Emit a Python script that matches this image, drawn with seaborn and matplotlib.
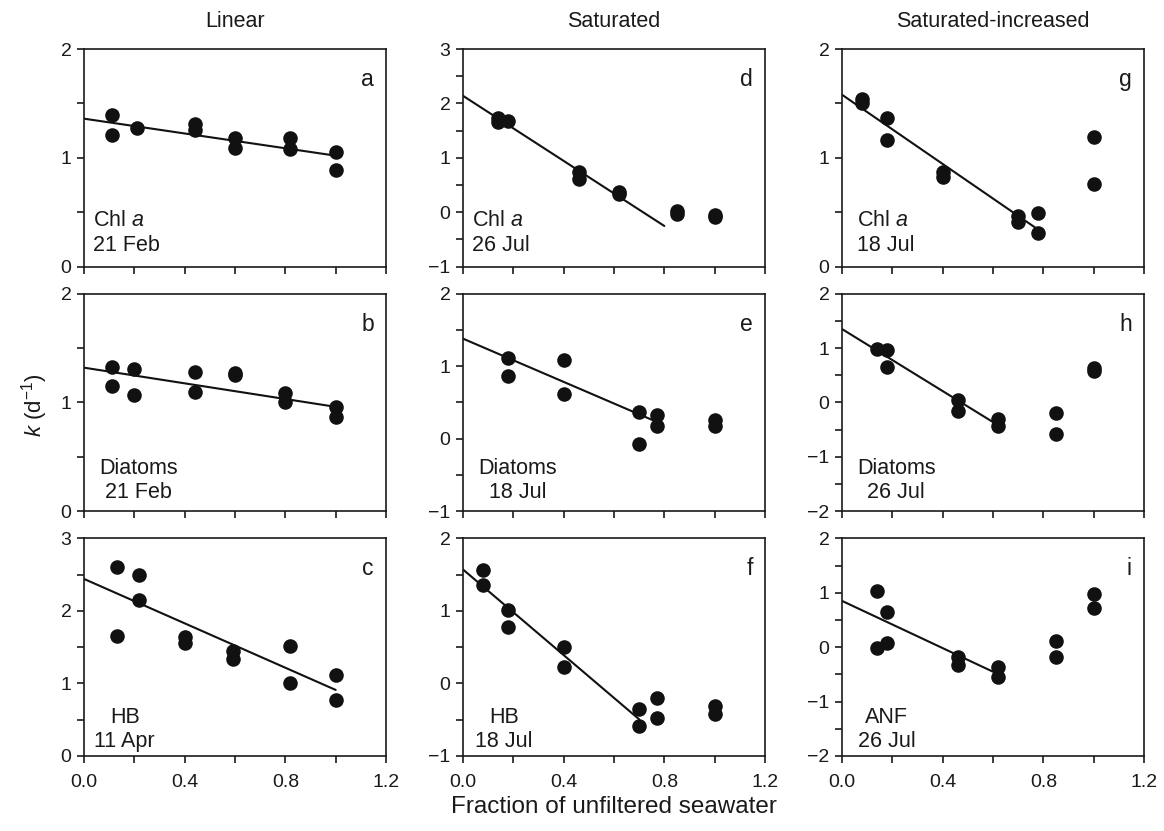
import numpy as np
import pandas as pd
import matplotlib
matplotlib.use("Agg")
import matplotlib.pyplot as plt
import seaborn as sns
from matplotlib.ticker import MultipleLocator

# ---------------- data ----------------
col_titles = ["Linear", "Saturated", "Saturated-increased"]
panel_letters = ["a", "d", "g", "b", "e", "h", "c", "f", "i"]
group_labels = [r"Chl $a$", r"Chl $a$", r"Chl $a$",
                "Diatoms", "Diatoms", "Diatoms",
                "HB", "HB", "ANF"]
date_labels = ["21 Feb", "26 Jul", "18 Jul",
               "21 Feb", "18 Jul", "26 Jul",
               "11 Apr", "18 Jul", "26 Jul"]

x_a = [0.11, 0.11, 0.21, 0.44, 0.44, 0.60, 0.60, 0.82, 0.82, 1.0, 1.0]
y_a = [1.39, 1.21, 1.27, 1.31, 1.26, 1.18, 1.09, 1.18, 1.08, 1.05, 0.89]
x_d = [0.14, 0.14, 0.18, 0.46, 0.46, 0.62, 0.62, 0.85, 0.85, 1.0, 1.0]
y_d = [1.74, 1.65, 1.68, 0.74, 0.62, 0.38, 0.33, 0.02, -0.03, -0.05, -0.09]
x_g = [0.08, 0.08, 0.18, 0.18, 0.40, 0.40, 0.70, 0.70, 0.78, 0.78, 1.0, 1.0]
y_g = [1.54, 1.50, 1.37, 1.16, 0.87, 0.82, 0.47, 0.41, 0.49, 0.31, 1.19, 0.76]
x_b = [0.11, 0.11, 0.20, 0.20, 0.44, 0.44, 0.60, 0.60, 0.80, 0.80, 1.0, 1.0]
y_b = [1.33, 1.15, 1.31, 1.07, 1.28, 1.10, 1.27, 1.25, 1.09, 1.00, 0.96, 0.87]
x_e = [0.18, 0.18, 0.40, 0.40, 0.70, 0.70, 0.77, 0.77, 1.0, 1.0]
y_e = [1.12, 0.87, 1.09, 0.62, 0.37, -0.07, 0.33, 0.17, 0.26, 0.17]
x_h = [0.14, 0.18, 0.18, 0.46, 0.46, 0.62, 0.62, 0.85, 0.85, 1.0, 1.0]
y_h = [0.98, 0.97, 0.65, 0.04, -0.16, -0.31, -0.43, -0.19, -0.58, 0.63, 0.58]
x_c = [0.13, 0.13, 0.22, 0.22, 0.40, 0.40, 0.59, 0.59, 0.82, 0.82, 1.0, 1.0]
y_c = [2.61, 1.66, 2.50, 2.15, 1.64, 1.56, 1.44, 1.34, 1.52, 1.01, 1.12, 0.77]
x_f = [0.08, 0.08, 0.18, 0.18, 0.40, 0.40, 0.70, 0.70, 0.77, 0.77, 1.0, 1.0]
y_f = [1.57, 1.36, 1.01, 0.78, 0.50, 0.23, -0.35, -0.59, -0.20, -0.48, -0.31, -0.42]
x_i = [0.14, 0.14, 0.18, 0.18, 0.46, 0.46, 0.62, 0.62, 0.85, 0.85, 1.0, 1.0]
y_i = [1.03, -0.02, 0.65, 0.07, -0.18, -0.32, -0.36, -0.55, 0.11, -0.18, 0.98, 0.72]

x_data = [x_a, x_d, x_g, x_b, x_e, x_h, x_c, x_f, x_i]
y_data = [y_a, y_d, y_g, y_b, y_e, y_h, y_c, y_f, y_i]

# regression lines: intercept, slope, x-range end
fit_intercept = [1.36, 2.14, 1.58, 1.32, 1.38, 1.35, 2.44, 1.57, 0.85]
fit_slope = [-0.34, -2.99, -1.59, -0.36, -1.49, -2.85, -1.53, -2.95, -2.17]
fit_xend = [1.0, 0.80, 0.80, 1.0, 0.76, 0.61, 1.0, 0.70, 0.61]

y_limits = [(0, 2), (-1, 3), (0, 2), (0, 2), (-1, 2), (-2, 2), (0, 3), (-1, 2), (-2, 2)]
x_ticklabels = ["0.0", "0.4", "0.8", "1.2"]

# label layout (axes fraction) and alignment
lab_x = [0.03, 0.03, 0.05, 0.18, 0.18, 0.18, 0.135, 0.135, 0.148]
lab_align = ["left", "left", "left", "center", "center", "center", "center", "center", "center"]
lab_y = [0.05, 0.05, 0.05, 0.038, 0.038, 0.038, 0.018, 0.018, 0.018]

# ---------------- style ----------------
sns.set_theme(style="ticks")
plt.rcParams["font.family"] = ["Liberation Sans", "DejaVu Sans"]
plt.rcParams["mathtext.fontset"] = "custom"
plt.rcParams["mathtext.rm"] = "Liberation Sans"
plt.rcParams["mathtext.it"] = "Liberation Sans:italic"
plt.rcParams["axes.linewidth"] = 1.2
plt.rcParams["axes.edgecolor"] = "#1a1a1a"

fig, axes = plt.subplots(3, 3, figsize=(11.64, 8.31), dpi=100)
fig.subplots_adjust(left=0.0722, right=0.9828, top=0.941, bottom=0.0903,
                    wspace=0.255, hspace=0.124)

for k, ax in enumerate(axes.flat):
    r, c = divmod(k, 3)
    df = pd.DataFrame({"x": x_data[k], "y": y_data[k]})
    sns.scatterplot(data=df, x="x", y="y", ax=ax, s=110, color="#111111",
                    edgecolor="#111111", linewidth=0, zorder=3)
    xl = np.array([0.0, fit_xend[k]])
    dfl = pd.DataFrame({"x": xl, "y": fit_intercept[k] + fit_slope[k] * xl})
    sns.lineplot(data=dfl, x="x", y="y", ax=ax, color="#111111", linewidth=1.5, zorder=2)

    ax.set_xlim(0, 1.2)
    ax.set_ylim(*y_limits[k])
    ax.xaxis.set_major_locator(MultipleLocator(0.4))
    ax.xaxis.set_minor_locator(MultipleLocator(0.2))
    ax.yaxis.set_major_locator(MultipleLocator(1))
    ax.yaxis.set_minor_locator(MultipleLocator(0.5))
    ax.tick_params(which="both", direction="out", color="#1a1a1a", width=1.2)
    ax.tick_params(which="major", length=5, labelsize=14, pad=4, labelcolor="#1a1a1a")
    ax.tick_params(which="minor", length=5)
    if r == 2:
        ax.set_xticks([0, 0.4, 0.8, 1.2])
        ax.set_xticklabels(x_ticklabels)
        ax.tick_params(axis="x", pad=8)
    else:
        ax.tick_params(axis="x", labelbottom=False)
    ax.set_xlabel("")
    ax.set_ylabel("")
    for sp in ax.spines.values():
        sp.set_visible(True)

    ax.text(0.96, 0.83, panel_letters[k], transform=ax.transAxes, ha="right",
            va="baseline", fontsize=16.5, color="#1a1a1a")
    ax.text(lab_x[k], lab_y[k], group_labels[k] + "\n" + date_labels[k],
            transform=ax.transAxes, ha=lab_align[k], multialignment=lab_align[k],
            va="bottom", fontsize=15.5, linespacing=1.22, color="#1a1a1a")
    if r == 0:
        ax.set_title(col_titles[c], fontsize=15.5, pad=16, color="#1a1a1a")

fig.text(0.5275, 0.029, "Fraction of unfiltered seawater", ha="center",
         va="center", fontsize=17.5, color="#1a1a1a")
fig.text(0.03, 0.513, r"$k$ (d$^{-1}$)", ha="center", va="center",
         rotation=90, fontsize=16, color="#1a1a1a")

fig.savefig("out.png", dpi=100)
